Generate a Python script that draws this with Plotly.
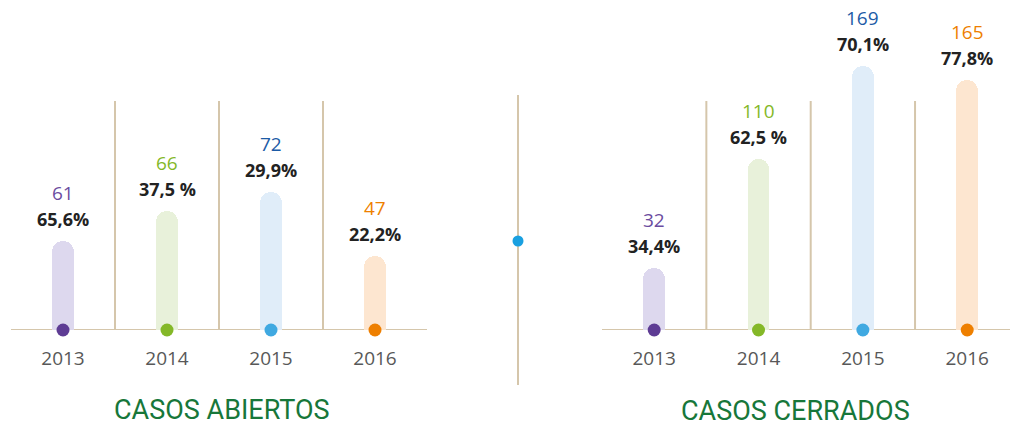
import plotly.graph_objects as go

W, H = 1010, 426

years = ["2013", "2014", "2015", "2016"]

# Left panel: casos abiertos
open_counts = ["61", "66", "72", "47"]
open_pct = ["65,6%", "37,5 %", "29,9%", "22,2%"]
open_bar_len = [89, 119, 138, 74]   # visual bar lengths

# Right panel: casos cerrados
closed_counts = ["32", "110", "169", "165"]
closed_pct = ["34,4%", "62,5 %", "70,1%", "77,8%"]
closed_bar_len = [62, 171, 264, 250]

titles = ["CASOS ABIERTOS", "CASOS CERRADOS"]

dot_colors = ["#5E3C94", "#84B828", "#40A9E1", "#EE7F00"]
count_colors = ["#6B4C9F", "#84B828", "#1C5BA6", "#EE7F00"]
bar_colors = ["#DDD8EE", "#E8F1DA", "#E0EDF9", "#FDE6D0"]
line_color = "#D5C6AB"
title_color = "#17773A"

fig = go.Figure()

panels = [
    ("x", "y", open_bar_len, open_counts, open_pct),
    ("x2", "y2", closed_bar_len, closed_counts, closed_pct),
]

annotations = []
shapes = []
for xa, ya, lens, counts, pcts in panels:
    # baseline drawn beneath the bars and dots
    shapes.append(dict(
        type="line", xref=xa + " domain", yref=ya, x0=0, x1=1, y0=0, y1=0,
        line=dict(color=line_color, width=2), layer="below",
    ))
    for k in (0.5, 1.5, 2.5):
        shapes.append(dict(
            type="line", xref=xa, yref=ya, x0=k, x1=k, y0=0, y1=229,
            line=dict(color=line_color, width=2), layer="below",
        ))
    fig.add_trace(go.Bar(
        x=years, y=lens, xaxis=xa, yaxis=ya, width=0.21,
        marker=dict(color=bar_colors, cornerradius=11, line=dict(width=0)),
        hoverinfo="skip", showlegend=False,
    ))
    fig.add_trace(go.Scatter(
        x=years, y=[0] * len(years), xaxis=xa, yaxis=ya, mode="markers",
        marker=dict(size=13, color=dot_colors, line=dict(width=0)),
        cliponaxis=False, hoverinfo="skip", showlegend=False,
    ))
    for i, yr in enumerate(years):
        annotations.append(dict(
            x=i, y=lens[i], xref=xa, yref=ya, text=counts[i], showarrow=False,
            yshift=48, yanchor="middle",
            font=dict(family="Open Sans", size=19, color=count_colors[i]),
        ))
        annotations.append(dict(
            x=i, y=lens[i], xref=xa, yref=ya, text="<b>" + pcts[i] + "</b>",
            showarrow=False, yshift=22, yanchor="middle",
            font=dict(family="Open Sans", size=18, color="#222222"),
        ))

# Panel titles
annotations.append(dict(
    x=222 / W, y=1 - 410 / H, xref="paper", yref="paper", text=titles[0],
    showarrow=False, xanchor="center", yanchor="middle",
    font=dict(family="Roboto", size=27, color=title_color),
))
annotations.append(dict(
    x=795 / W, y=1 - 411 / H, xref="paper", yref="paper", text=titles[1],
    showarrow=False, xanchor="center", yanchor="middle",
    font=dict(family="Roboto", size=27, color=title_color),
))

# Central separator with dot
shapes.append(dict(
    type="line", xref="paper", yref="paper",
    x0=518 / W, x1=518 / W, y0=1 - 95 / H, y1=1 - 385 / H,
    line=dict(color=line_color, width=2),
))
shapes.append(dict(
    type="circle", xref="paper", yref="paper",
    x0=(518 - 5.5) / W, x1=(518 + 5.5) / W,
    y0=1 - (241 + 5.5) / H, y1=1 - (241 - 5.5) / H,
    fillcolor="#1AA0E0", line=dict(width=0),
))

axis_common = dict(
    type="category", showgrid=False, zeroline=False, showline=False,
    ticks="", tickfont=dict(family="Open Sans", size=19, color="#585858"),
    ticklabelstandoff=15, fixedrange=True,
)
yaxis_common = dict(
    range=[0, 330], domain=[96 / H, 1], visible=False,
    showgrid=False, zeroline=False, fixedrange=True,
)

fig.update_layout(
    width=W, height=H,
    margin=dict(l=0, r=0, t=0, b=0),
    paper_bgcolor="white", plot_bgcolor="white",
    xaxis=dict(domain=[11 / W, 427 / W], range=[-0.5, 3.5], anchor="y", **axis_common),
    xaxis2=dict(domain=[602 / W, 1], range=[-0.5, 3.41], anchor="y2", **axis_common),
    yaxis=dict(anchor="x", **yaxis_common),
    yaxis2=dict(anchor="x2", **yaxis_common),
    annotations=annotations,
    shapes=shapes,
    showlegend=False,
    bargap=0,
)

fig.write_html("out.html")
